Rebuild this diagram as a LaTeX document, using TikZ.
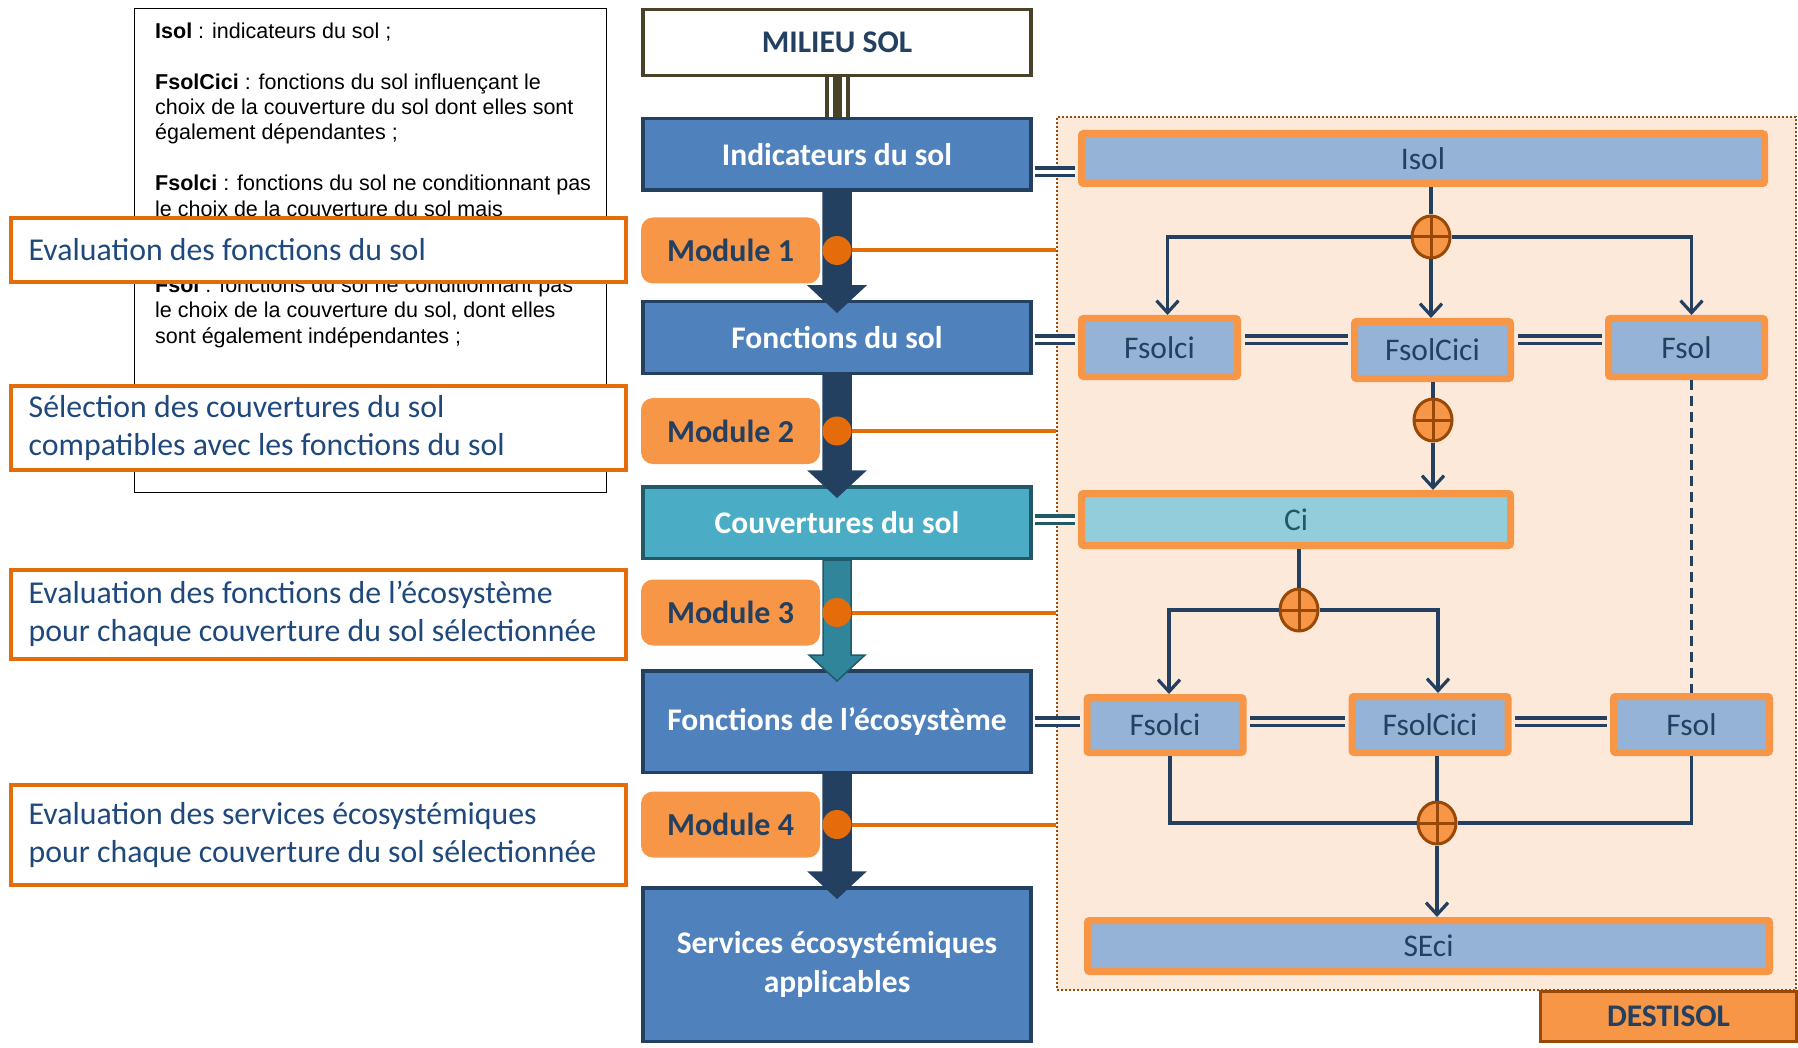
\documentclass[tikz,border=0pt]{standalone}
\usepackage{fontspec}
\setmainfont{Carlito}
\newfontfamily\legendfont{Liberation Sans}
\usetikzlibrary{positioning,calc,shapes.geometric,arrows.meta}

\definecolor{navy}{RGB}{36,64,97}
\definecolor{boxblue}{RGB}{79,129,189}
\definecolor{boxteal}{RGB}{75,172,198}
\definecolor{darkteal}{RGB}{33,89,104}
\definecolor{arrowteal}{RGB}{49,133,155}
\definecolor{olive}{RGB}{74,66,40}
\definecolor{modorange}{RGB}{247,150,70}
\definecolor{deeporange}{RGB}{228,108,10}
\definecolor{brownish}{RGB}{152,72,7}
\definecolor{peach}{RGB}{253,233,217}
\definecolor{paleblue}{RGB}{149,179,215}
\definecolor{paleteal}{RGB}{146,205,220}
\definecolor{labelblue}{RGB}{31,73,125}

\tikzset{
  stage/.style={draw=navy, fill=boxblue, line width=3.5pt, minimum width=388pt,
    text=white, align=center, inner sep=0pt,
    font=\fontsize{31.5}{39}\selectfont\bfseries},
  module/.style={fill=modorange, rounded corners=12pt, minimum width=179pt,
    minimum height=66pt, inner sep=0pt, text=navy,
    font=\fontsize{32}{38}\selectfont\bfseries},
  moddot/.style={circle, fill=deeporange, minimum size=29pt, inner sep=0pt},
  capbox/.style={draw=deeporange, line width=4pt, fill=white,
    minimum width=615pt, inner sep=0pt},
  captext/.style={anchor=west, align=left, inner sep=0pt, text=labelblue,
    font=\fontsize{31.8}{38}\selectfont},
  legendline/.style={anchor=base west, inner sep=0pt,
    font=\legendfont\fontsize{21.5}{25}\selectfont},
  zonebox/.style={draw=brownish, dotted, line width=2pt, fill=peach,
    minimum width=739pt, minimum height=873pt, inner sep=0pt},
  varbox/.style={draw=modorange, line width=7pt, fill=paleblue, text=navy,
    rounded corners=2pt, minimum width=156pt, minimum height=57pt, inner sep=0pt,
    font=\fontsize{31.5}{38}\selectfont},
  plusnode/.style={ellipse, draw=brownish, fill=modorange, line width=3pt,
    minimum width=38pt, minimum height=42pt, inner sep=0pt,
    path picture={\draw[brownish, line width=3pt]
      (path picture bounding box.north) -- (path picture bounding box.south)
      (path picture bounding box.west) -- (path picture bounding box.east);}},
  flow/.style={navy, line width=3.2pt},
  flowtip/.style={-{Straight Barb[length=12pt,width=22pt]}},
  twin/.style={draw=navy, double=white, double distance=4pt, line width=3.5pt,
    shorten <=2pt, shorten >=3.5pt},
}

% thick block arrow between two stages
\newcommand{\flowarrow}[4]{%
  \fill[#3, draw=#4, line width=1.5pt]
    ($(#1.south)+(-14,0)$) -- ($(#2.north)+(-14,-14)$) -- ($(#2.north)+(-28,-14)$)
    -- ($(#2.north)+(0,12)$) -- ($(#2.north)+(28,-14)$) -- ($(#2.north)+(14,-14)$)
    -- ($(#1.south)+(14,0)$) -- cycle;}

\begin{document}
\begin{tikzpicture}[x=1pt, y=-1pt]
    \useasboundingbox (0,0) rectangle (1798,1048);

    % DESTISOL zone
    \node[zonebox] (zone) at (1426.5,553.5) {};
    \node[varbox, fill=modorange, draw=brownish, line width=3pt, rounded corners=0pt,
      minimum width=256pt, minimum height=50pt, font=\fontsize{31.5}{38}\selectfont\bfseries]
      (destisol) at (1668.5,1016.5) {DESTISOL};

    % legend
    \node[draw, line width=1.8pt, minimum width=472pt, minimum height=484pt, inner sep=0pt]
      (legend) at (370.5,250.5) {};
    \foreach \y/\t [count=\i] in {
        39/{\textbf{Isol} : indicateurs du sol ;},
        90/{\textbf{FsolCici} : fonctions du sol influençant le},
        115/{choix de la couverture du sol dont elles sont},
        140/{également dépendantes ;},
        191/{\textbf{Fsolci} : fonctions du sol ne conditionnant pas},
        217/{le choix de la couverture du sol mais},
        293/{\textbf{Fsol} : fonctions du sol ne conditionnant pas},
        318/{le choix de la couverture du sol, dont elles},
        344/{sont également indépendantes ;}}
      \node[legendline] (leg\i) at (155,\y) {\t};

    % captions
    \node[capbox, minimum height=64pt] (cap1) at (318.5,250) {};
    \node[captext] (cap1txt) at ($(cap1.west)+(19.5,0)$) {Evaluation des fonctions du sol};
    \node[capbox, minimum height=84pt] (cap2) at (318.5,428) {};
    \node[captext] (cap2txt) at ($(cap2.west)+(19.5,0)$)
      {Sélection des couvertures du sol\\compatibles avec les fonctions du sol};
    \node[capbox, minimum height=89pt] (cap3) at (318.5,614) {};
    \node[captext] (cap3txt) at ($(cap3.west)+(19.5,0)$)
      {Evaluation des fonctions de l’écosystème\\pour chaque couverture du sol sélectionnée};
    \node[capbox, minimum height=100pt] (cap4) at (318.5,835) {};
    \node[captext] (cap4txt) at ($(cap4.west)+(19.5,0)$)
      {Evaluation des services écosystémiques\\pour chaque couverture du sol sélectionnée};

    % main chain
    \node[stage, draw=olive, fill=white, text=navy, minimum height=66pt] (milieu) at (837,42.5) {MILIEU SOL};
    \node[stage, minimum height=71.5pt] (ind) at (837,154.5) {Indicateurs du sol};
    \node[stage, minimum height=71.5pt] (fsol) at (837,337.5) {Fonctions du sol};
    \node[stage, draw=darkteal, fill=boxteal, minimum height=71.5pt] (couv) at (837,522.5) {Couvertures du sol};
    \node[stage, minimum height=101.5pt] (feco) at (837,721.5) {Fonctions de l’écosystème};
    \node[stage, minimum height=153.5pt] (serv) at (837,964.5) {Services écosystémiques\\applicables};

    \foreach \i/\y in {1/250.5, 2/431, 3/612.5, 4/824.5}
      \node[module] (mod\i) at (730.5,\y) {Module \i};

    \foreach \w/\c in {25/olive, 17/white, 9/olive}
      \draw[\c, line width=\w] (milieu.south) -- (ind.north);

    \flowarrow{ind}{fsol}{navy}{navy}
    \flowarrow{fsol}{couv}{navy}{navy}
    \flowarrow{couv}{feco}{arrowteal}{darkteal}
    \flowarrow{feco}{serv}{navy}{navy}

    \foreach \i in {1,...,4} {
      \node[moddot] (dot\i) at (mod\i -| ind) {};
      \draw[deeporange, line width=4pt] (dot\i.east) -- (dot\i -| zone.west);
    }

    % DESTISOL variables
    \node[varbox, minimum width=683pt, minimum height=50pt] (isol) at (1423,158.5) {Isol};
    \node[varbox, minimum height=58pt] (fsolci1) at (1159.5,347.5) {Fsolci};
    \node[varbox] (fsolcici1) at (1432.5,350) {FsolCici};
    \node[varbox, minimum height=58pt] (fsol1) at (1686.5,347.5) {Fsol};
    \node[varbox, fill=paleteal, text=darkteal, minimum width=429pt, minimum height=52pt] (ci) at (1296,519.5) {Ci};
    \node[varbox, minimum height=55pt] (fsolci2) at (1165,725) {Fsolci};
    \node[varbox, minimum height=56pt] (fsolcici2) at (1430,724.5) {FsolCici};
    \node[varbox, minimum height=56pt] (fsol2) at (1691.5,724.5) {Fsol};
    \node[varbox, minimum width=682pt, minimum height=51pt] (seci) at (1428.5,946) {SEci};

    \node[plusnode] (p1) at (1431,237) {};
    \node[plusnode] (p2) at (1433,420) {};
    \node[plusnode] (p3) at (1299,610) {};
    \node[plusnode] (p4) at (1437,823) {};

    \draw[flow] (isol.south -| p1) -- (p1.north);
    \draw[flow, flowtip] (p1.west) -| ($(fsolci1.north)+(8,0)$);
    \draw[flow, flowtip] (p1.south) -- (p1.south |- fsolcici1.north);
    \draw[flow, flowtip] (p1.east) -| ($(fsol1.north)+(5,0)$);
    \draw[flow] (fsolcici1.south -| p2) -- (p2.north);
    \draw[flow, flowtip] (p2.south) -- (p2.south |- ci.north);
    \draw[flow] (ci.south -| p3) -- (p3.north);
    \draw[flow, flowtip] (p3.west) -| ($(fsolci2.north)+(4,0)$);
    \draw[flow, flowtip] (p3.east) -| ($(fsolcici2.north)+(8,0)$);
    \draw[flow] ($(fsolci2.south)+(5,0)$) |- (p4.west);
    \draw[flow] (fsol2.south) |- (p4.east);
    \draw[flow] (fsolcici2.south -| p4) -- (p4.north);
    \draw[flow, flowtip] (p4.south) -- (p4.south |- seci.north);
    \draw[flow, dash pattern=on 10pt off 6pt] (fsol1.south -| fsol2) -- (fsol2.north);

    % double links
    \draw[twin] ($(ind.east)+(0,17.5)$) coordinate (tw1) -- (tw1 -| isol.west);
    \draw[twin] ($(fsol.east)+(0,2.5)$) coordinate (tw2) -- (tw2 -| fsolci1.west);
    \draw[twin, double=peach, shorten <=3.5pt] (tw2 -| fsolci1.east) -- (tw2 -| fsolcici1.west);
    \draw[twin, double=peach, shorten <=3.5pt] (tw2 -| fsolcici1.east) -- (tw2 -| fsol1.west);
    \draw[twin, draw=darkteal] (couv.east |- ci.west) -- (ci.west);
    \draw[twin] (feco.east) -- (feco.east -| fsolci2.west);
    \draw[twin, double=peach, shorten <=3.5pt] (fsolci2.east |- feco.east) -- (feco.east -| fsolcici2.west);
    \draw[twin, double=peach, shorten <=3.5pt] (fsolcici2.east |- feco.east) -- (feco.east -| fsol2.west);
\end{tikzpicture}
\end{document}
